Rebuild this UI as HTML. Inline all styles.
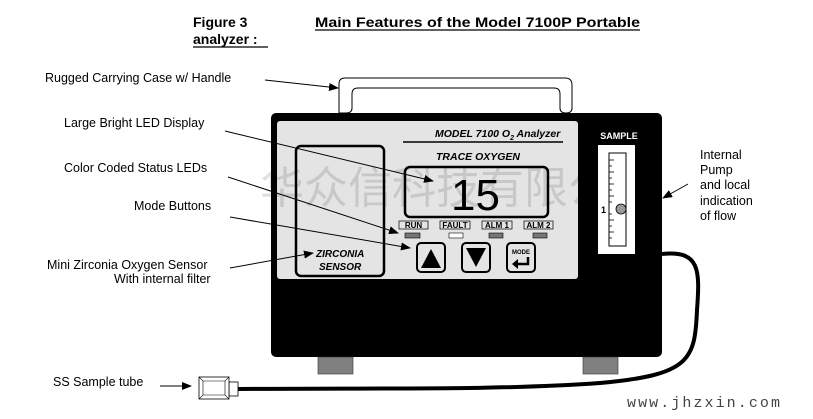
<!DOCTYPE html>
<html><head><meta charset="utf-8"><style>
body{margin:0;background:#fff;}
svg{display:block;font-family:"Liberation Sans",Arial,sans-serif;}
</style></head><body>
<svg width="813" height="419" viewBox="0 0 813 419" xmlns="http://www.w3.org/2000/svg">
<defs><marker id="a" markerWidth="10" markerHeight="8" refX="9" refY="4" orient="auto" markerUnits="userSpaceOnUse"><path d="M0,0 L10,4 L0,8z" fill="#000"/></marker></defs>
<text x="193" y="27" font-size="14" font-weight="bold">Figure 3</text>
<text x="193" y="44" font-size="14" font-weight="bold">analyzer :</text>
<line x1="193" y1="47" x2="268" y2="47" stroke="#000" stroke-width="1.2"/>
<text x="315" y="27" font-size="14" font-weight="bold" textLength="325" lengthAdjust="spacingAndGlyphs">Main Features of the Model 7100P Portable</text>
<line x1="315" y1="30" x2="640" y2="30" stroke="#000" stroke-width="1.2"/>
<!-- handle -->
<path d="M339,113 L339,84 Q339,78 345,78 L565,78 Q572,78 572,85 L572,108 Q572,113 566,113 Q560,113 560,108 L560,94 Q560,88 554,88 L358,88 Q352,88 352,94 L352,108 Q352,113 346,113 Z" fill="#fff" stroke="#000" stroke-width="1"/>
<!-- case -->
<rect x="271" y="113" width="391" height="244" rx="5" fill="#000"/>
<rect x="277" y="121" width="301" height="158" rx="3" fill="#e4e4e4"/>
<rect x="318" y="357" width="35" height="17" fill="#808080" stroke="#333" stroke-width="0.6"/>
<rect x="583" y="357" width="35" height="17" fill="#808080" stroke="#333" stroke-width="0.6"/>
<text x="435" y="137" font-size="10.5" font-weight="bold" font-style="italic">MODEL 7100  O<tspan font-size="7" dy="3">2</tspan><tspan dy="-3"> Analyzer</tspan></text>
<line x1="403" y1="142" x2="563" y2="142" stroke="#000" stroke-width="1.5"/>
<text x="436" y="160" font-size="10.5" font-weight="bold" font-style="italic">TRACE  OXYGEN</text>
<rect x="405" y="167" width="143" height="50" rx="5" fill="#e4e4e4" stroke="#000" stroke-width="2.5"/>
<!-- watermark -->
<text x="260" y="203" font-size="44" fill="#000" fill-opacity="0.12" font-family="'Noto Sans CJK SC',sans-serif">华众信科技有限公司</text>
<text x="451" y="210" font-size="44">15</text>
<rect x="296" y="146" width="88" height="130" rx="5" fill="none" stroke="#000" stroke-width="2.5"/>
<text x="316" y="257" font-size="10" font-weight="bold" font-style="italic">ZIRCONIA</text>
<text x="319" y="270" font-size="10" font-weight="bold" font-style="italic">SENSOR</text>
<g font-size="8" font-weight="bold" text-anchor="middle">
<rect x="399" y="221" width="29" height="8" fill="#e4e4e4" stroke="#000" stroke-width="0.7"/><text x="413.5" y="228">RUN</text>
<rect x="440" y="221" width="30" height="8" fill="#e4e4e4" stroke="#000" stroke-width="0.7"/><text x="455" y="228">FAULT</text>
<rect x="482" y="221" width="30" height="8" fill="#e4e4e4" stroke="#000" stroke-width="0.7"/><text x="497" y="228">ALM 1</text>
<rect x="524" y="221" width="29" height="8" fill="#e4e4e4" stroke="#000" stroke-width="0.7"/><text x="538.5" y="228">ALM 2</text>
</g>
<rect x="405" y="233" width="15" height="5" fill="#777" stroke="#000" stroke-width="0.6"/>
<rect x="449" y="233" width="14" height="5" fill="#fff" stroke="#000" stroke-width="0.6"/>
<rect x="489" y="233" width="14" height="5" fill="#777" stroke="#000" stroke-width="0.6"/>
<rect x="533" y="233" width="14" height="5" fill="#777" stroke="#000" stroke-width="0.6"/>
<rect x="417" y="243" width="28" height="29" rx="4" fill="#e4e4e4" stroke="#000" stroke-width="2"/>
<path d="M421,268 L441,268 L431,249z" fill="#000"/>
<rect x="462" y="243" width="28" height="29" rx="4" fill="#e4e4e4" stroke="#000" stroke-width="2"/>
<path d="M466,248 L486,248 L476,267z" fill="#000"/>
<rect x="507" y="243" width="28" height="29" rx="4" fill="#e4e4e4" stroke="#000" stroke-width="2"/>
<text x="521" y="254" font-size="6" font-weight="bold" text-anchor="middle">MODE</text>
<path d="M528,257 L528,264 L517,264" fill="none" stroke="#000" stroke-width="2.5"/>
<path d="M512,264 L518,259 L518,269z" fill="#000"/>
<!-- sample -->
<text x="619" y="139" font-size="9" font-weight="bold" fill="#fff" text-anchor="middle">SAMPLE</text>
<rect x="598" y="145" width="37" height="109" fill="#fff"/>
<rect x="609" y="153" width="17" height="93" fill="#fff" stroke="#000" stroke-width="1"/>
<g stroke="#000" stroke-width="0.8">
<line x1="609" y1="160" x2="614" y2="160"/><line x1="609" y1="166" x2="612" y2="166"/><line x1="609" y1="172" x2="614" y2="172"/><line x1="609" y1="178" x2="612" y2="178"/><line x1="609" y1="184" x2="614" y2="184"/><line x1="609" y1="190" x2="612" y2="190"/><line x1="609" y1="196" x2="614" y2="196"/><line x1="609" y1="202" x2="612" y2="202"/><line x1="609" y1="214" x2="612" y2="214"/><line x1="609" y1="220" x2="614" y2="220"/><line x1="609" y1="226" x2="612" y2="226"/><line x1="609" y1="232" x2="614" y2="232"/><line x1="609" y1="238" x2="612" y2="238"/></g>
<text x="601" y="213" font-size="9" font-weight="bold">1</text>
<circle cx="621" cy="209" r="5" fill="#999" stroke="#000" stroke-width="0.8"/>
<!-- tube -->
<path d="M662,254 C700,250 700,270 697,310 C695,360 690,375 600,383 C500,390 400,388 238,389" fill="none" stroke="#000" stroke-width="4"/>
<rect x="229" y="382" width="9" height="14" fill="#fff" stroke="#000" stroke-width="0.8"/>
<rect x="199" y="377" width="30" height="22" fill="#fff" stroke="#000" stroke-width="0.8"/>
<path d="M199,377 L203,381 L225,381 L229,377 M199,399 L203,395 L225,395 L229,399 M203,381 L203,395 M225,381 L225,395" fill="none" stroke="#000" stroke-width="0.6"/>
<line x1="160" y1="386" x2="191" y2="386" stroke="#000" marker-end="url(#a)"/>
<!-- labels -->
<g font-size="12.5">
<text x="45" y="82">Rugged Carrying Case  w/ Handle</text>
<text x="64" y="127">Large Bright LED Display</text>
<text x="64" y="172">Color Coded Status LEDs</text>
<text x="134" y="210">Mode Buttons</text>
<text x="47" y="269">Mini Zirconia Oxygen Sensor</text>
<text x="114" y="283">With internal filter</text>
<text x="53" y="386">SS Sample tube</text>
<text x="700" y="159">Internal</text>
<text x="700" y="174">Pump</text>
<text x="700" y="189">and local</text>
<text x="700" y="205">indication</text>
<text x="700" y="220">of flow</text>
</g>
<g stroke="#000" stroke-width="1" marker-end="url(#a)">
<line x1="265" y1="80" x2="338" y2="88"/>
<line x1="225" y1="131" x2="433" y2="181"/>
<line x1="228" y1="177" x2="398" y2="233"/>
<line x1="230" y1="217" x2="410" y2="248"/>
<line x1="230" y1="268" x2="313" y2="253"/>
<line x1="688" y1="184" x2="663" y2="198"/>
</g>
<text x="627" y="407" font-size="15" fill="#444" font-family="'Liberation Mono',monospace" textLength="153" lengthAdjust="spacing">www.jhzxin.com</text>
</svg>
</body></html>
